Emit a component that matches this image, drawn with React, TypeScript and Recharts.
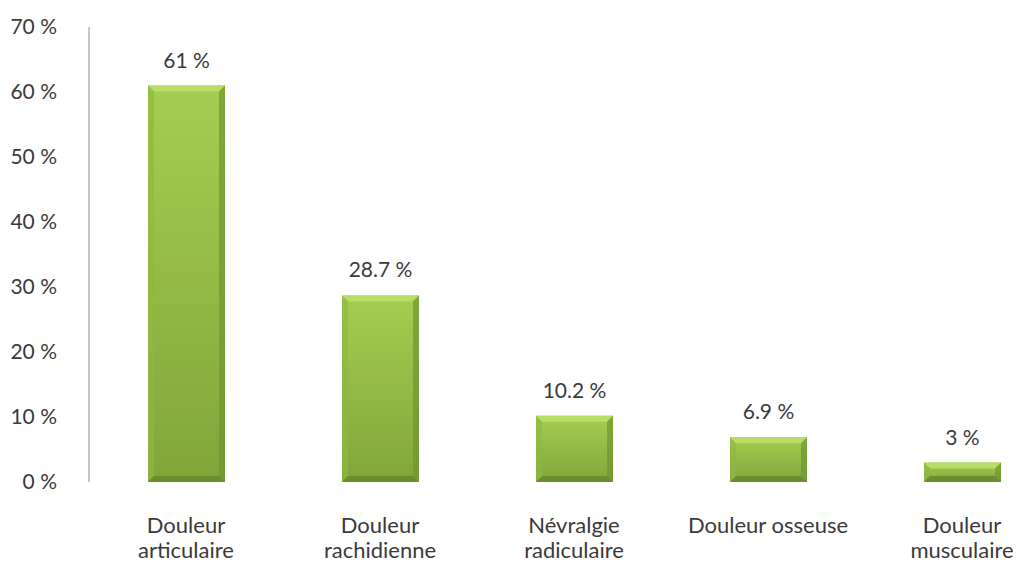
import { BarChart, Bar, XAxis, YAxis, LabelList } from 'recharts'

const categories = ['Douleur articulaire', 'Douleur rachidienne', 'Névralgie radiculaire', 'Douleur osseuse', 'Douleur musculaire']
const tickLines = [['Douleur', 'articulaire'], ['Douleur', 'rachidienne'], ['Névralgie', 'radiculaire'], ['Douleur osseuse'], ['Douleur', 'musculaire']]
const values = [61, 28.7, 10.2, 6.9, 3]
const yTicks = [0, 10, 20, 30, 40, 50, 60, 70]

const data = categories.map((name, i) => ({ name, value: values[i] }))

const FONT = 'Lato, "Open Sans", sans-serif'
const TEXT = '#3a3a3a'

// barre verte avec biseau (style Excel)
const BevelBar = (props: any) => {
  const { x, y, width, height } = props
  if (!height || height <= 0) return null
  const b = Math.min(6, height / 3)
  return (
    <g>
      <rect x={x} y={y} width={width} height={height} fill="url(#barBody)" />
      <polygon points={`${x},${y} ${x + width},${y} ${x + width - b},${y + b} ${x + b},${y + b}`} fill="#b8de68" />
      <polygon points={`${x},${y} ${x + b},${y + b} ${x + b},${y + height - b} ${x},${y + height}`} fill="#8fb842" opacity={0.7} />
      <polygon points={`${x + width},${y} ${x + width - b},${y + b} ${x + width - b},${y + height - b} ${x + width},${y + height}`} fill="#6f9530" opacity={0.7} />
      <polygon points={`${x},${y + height} ${x + b},${y + height - b} ${x + width - b},${y + height - b} ${x + width},${y + height}`} fill="#6a8d2d" />
    </g>
  )
}

const CategoryTick = (props: any) => {
  const { x, y, payload } = props
  const lines = tickLines[payload.index] || [payload.value]
  return (
    <g>
      {lines.map((l, i) => (
        <text key={i} x={x} y={y + 43 + i * 25} textAnchor="middle" fill={TEXT} fontSize={22} fontFamily={FONT}>
          {l}
        </text>
      ))}
    </g>
  )
}

export default function App() {
  return (
    <div style={{ position: 'fixed', left: 0, top: 0, width: 1023, height: 565, overflow: 'hidden', background: '#fff' }}>
      <BarChart width={1059} height={565} data={data} margin={{ top: 27, right: 0, bottom: 0, left: 0 }}>
        <defs>
          <linearGradient id="barBody" x1="0" y1="0" x2="0" y2="1">
            <stop offset="0%" stopColor="#a4ce50" />
            <stop offset="100%" stopColor="#80a63b" />
          </linearGradient>
        </defs>
        <XAxis dataKey="name" axisLine={false} tickLine={false} height={83} interval={0} tick={<CategoryTick />} />
        <YAxis
          domain={[0, 70]}
          ticks={yTicks}
          width={89}
          tickLine={false}
          tickMargin={26}
          axisLine={{ stroke: '#8c8c8c' }}
          tickFormatter={(v) => `${v} %`}
          tick={{ fill: TEXT, fontSize: 21, fontFamily: FONT }}
        />
        <Bar dataKey="value" barSize={77} shape={<BevelBar />} isAnimationActive={false}>
          <LabelList
            dataKey="value"
            position="top"
            offset={18}
            formatter={(v: any) => `${v} %`}
            style={{ fill: TEXT, fontSize: 21, fontFamily: FONT }}
          />
        </Bar>
      </BarChart>
    </div>
  )
}
